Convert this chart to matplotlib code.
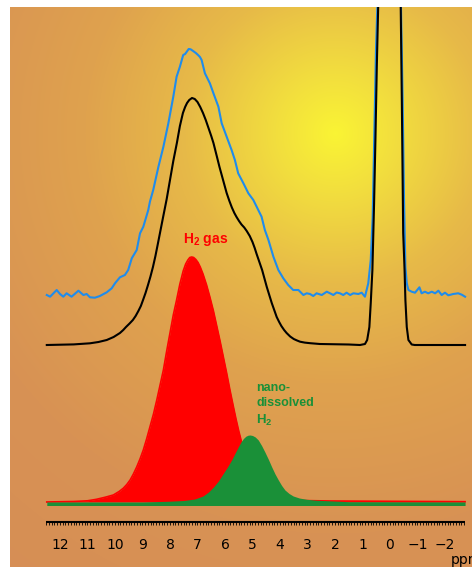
import numpy as np
import matplotlib
matplotlib.use("Agg")
import matplotlib.pyplot as plt

plt.rcParams["mathtext.fontset"] = "custom"
plt.rcParams["mathtext.bf"] = "Liberation Sans:bold"
plt.rcParams["mathtext.rm"] = "Liberation Sans:bold"

# ---- data (ppm, intensity in arbitrary units) ----
RED_PPM = [12.48, 11.5, 11.0, 10.67, 10.35, 10.06, 9.85, 9.70, 9.57, 9.45, 9.33,
           9.21, 9.09, 8.97, 8.85, 8.73, 8.6, 8.48, 8.36, 8.24, 8.12, 8.0, 7.88,
           7.76, 7.64, 7.52, 7.43, 7.35, 7.28, 7.21, 7.14, 7.06, 6.98, 6.9, 6.8,
           6.67, 6.55, 6.42, 6.3, 6.18, 6.06, 5.94, 5.82, 5.7, 5.6, 5.5, 5.38,
           5.27, 5.15, 5.03, 4.91, 4.75, 4.55, 4.3, 4.0, 3.6, 3.27, 2.18, -2.73]
RED_INT = [0, 0.5, 1.2, 2.7, 4.8, 7, 10.5, 13.7, 17.5, 22, 28,
           35, 43, 52, 63, 75, 88, 102, 117, 132, 151, 169, 187,
           202, 218, 231, 238, 242, 244.5, 245, 244.5, 242.5, 239.5, 235, 228,
           217, 205, 191, 176, 161, 145, 129, 112, 96, 83, 71, 58,
           47, 37, 29, 23, 16, 10, 6, 3.5, 2, 1.5, 1, 0.3]

GREEN_PPM = [12.48, 9.0, 8.0, 7.5, 7.1, 6.8, 6.6, 6.42, 6.24, 6.06, 5.91, 5.76,
             5.64, 5.52, 5.42, 5.33, 5.24, 5.16, 5.09, 5.0, 4.9, 4.79, 4.67,
             4.55, 4.42, 4.30, 4.18, 4.06, 3.94, 3.82, 3.67, 3.52, 3.3, 3.03,
             2.7, 2.30, 1.5, -2.73]
GREEN_INT = [0, 0, 0.8, 1.5, 3, 6, 10, 15, 21, 28.7, 35, 42,
             48.5, 55, 60, 63.5, 65.8, 66.8, 67, 66.5, 65, 62, 56.5,
             50, 42.5, 35, 28, 22, 16.5, 12, 8.5, 6, 4, 2.7,
             1.8, 1.3, 0.3, 0]

BLACK_PPM = [12.48, 11.5, 10.91, 10.6, 10.30, 10.05, 9.82, 9.7, 9.6, 9.47, 9.35,
             9.25, 9.15, 9.06, 8.98, 8.89, 8.8, 8.71, 8.62, 8.53, 8.45, 8.35,
             8.25, 8.12, 8.0, 7.88, 7.75, 7.64, 7.53, 7.45, 7.38, 7.3, 7.2, 7.1,
             7.0, 6.9, 6.8, 6.7, 6.6, 6.5, 6.42, 6.3, 6.2, 6.07, 5.94, 5.84,
             5.75, 5.66, 5.58, 5.49, 5.4, 5.3, 5.21, 5.1, 5.0, 4.92, 4.85, 4.75,
             4.65, 4.56, 4.48, 4.39, 4.3, 4.21, 4.12, 4.03, 3.95, 3.85, 3.76,
             3.63, 3.5, 3.38, 3.27, 3.1, 2.9, 2.55, 1.5, 1.09, 0.91, 0.83, 0.75,
             0.70, 0.64, 0.58, 0.53, 0.48, 0.43, 0.3, 0.0, -0.3, -0.39, -0.43,
             -0.48, -0.53, -0.56, -0.61, -0.67, -0.79, -0.9, -2.73]
BLACK_INT = [0, 0.6, 1.7, 3, 5, 8, 12, 15, 18, 21.5, 25,
             29, 34, 39, 45, 52, 60, 68.5, 78, 89, 100, 114,
             128, 146, 165, 184, 202, 219, 232, 238, 242, 245, 247, 246,
             243, 238, 232, 225, 217, 209, 202, 189, 178, 165, 152, 144,
             137.5, 132, 128, 124, 120.5, 117.5, 114, 109, 103, 97, 91, 83,
             75, 66, 58, 50, 42, 35, 28, 23, 19, 15, 12,
             8.5, 6, 4.5, 3.3, 2.4, 1.8, 1, 0.5, 0, 1, 5, 18,
             42, 75, 140, 205, 278, 338, 520, 600, 520, 338, 245,
             112, 75, 45, 18, 5, 0.5, 0, 0]

BLUE_PPM = [12.48, 12.36, 12.12, 12.0, 11.88, 11.76, 11.58, 11.33, 11.15, 11.03,
            10.91, 10.73, 10.55, 10.30, 10.12, 10.0, 9.82, 9.64, 9.52, 9.39, 9.21,
            9.09, 8.97, 8.79, 8.73, 8.61, 8.42, 8.24, 8.06, 7.88, 7.76, 7.64, 7.52,
            7.45, 7.39, 7.32, 7.25, 7.16, 7.06, 6.98, 6.91, 6.85, 6.73, 6.55, 6.42,
            6.24, 6.12, 5.94, 5.76, 5.64, 5.52, 5.33, 5.15, 4.97, 4.79, 4.67, 4.55,
            4.42, 4.24, 4.06, 3.88, 3.70, 3.52, 3.33, 3.15, 3.03, 2.91, 2.79, 2.67,
            2.48, 2.30, 2.18, 2.06, 1.94, 1.82, 1.70, 1.58, 1.45, 1.33, 1.15, 1.03,
            0.91, 0.79, 0.70, 0.63, 0.57, 0.51, 0.46, 0.3, 0.0, -0.3, -0.40, -0.46,
            -0.51, -0.56, -0.61, -0.67, -0.79, -0.91, -1.07, -1.15, -1.27, -1.39,
            -1.52, -1.64, -1.76, -1.88, -2.0, -2.12, -2.30, -2.48, -2.61, -2.73]
BLUE_INT = [0, -1.7, 5, 1, -1.7, 1.7, -1.7, 4.3, 0, 1,
            -2.3, -2.7, -1, 2.7, 6.7, 11.7, 17.7, 20, 25, 36.7, 45,
            61.7, 68.3, 85, 93.3, 105, 128.3, 148.3, 171.7, 198.3, 218.3, 228.3, 240,
            241, 243.3, 246, 245.7, 244, 242, 240, 238, 235, 221.7, 211.7, 201.7,
            188.3, 171.7, 158.3, 145, 135, 121.7, 111.7, 101.7, 95, 85, 78.3, 65,
            55, 38.3, 25, 16.7, 10, 5, 5, 0, 1.7, 1, -1, 1.7,
            0, 3.3, 1.7, 0, 2.5, 1.7, 0, 2.3, 0, 1.7, 1, 2.3,
            -1.7, 11.7, 35, 78, 161.7, 245, 288, 420, 480, 420, 288, 195,
            95, 28, 11.7, 5, 3.3, 2.3, 7.7, 1.7, 3.3, 1.7,
            3.3, 1.7, 4.3, 0, 2.3, -0.3, 1, 1.7, 0.3, -1.7]

TICK_PPM = [12, 11, 10, 9, 8, 7, 6, 5, 4, 3, 2, 1, 0, -1, -2]
TICK_LABELS = ["12", "11", "10", "9", "8", "7", "6", "5", "4", "3", "2", "1",
               "0", "\u22121", "\u22122"]

# layout
BLACK_OFFSET = 157
BLUE_OFFSET = 207
RULER_Y = -20
RULER_SPAN = (12.5, -2.73)

RED = "#ff0000"
GREEN = "#1a9038"
BLUE = "#1f8cec"

W, H = 472, 567
fig = plt.figure(figsize=(W / 100, H / 100), dpi=100)
fig.patch.set_facecolor("white")
rect = [10 / W, 0, 462 / W, 560 / H]

# radial background gradient
bg = fig.add_axes(rect)
gy, gx = np.mgrid[0:560, 0:462]
d = np.hypot(gx + 10 - 335, gy + 7 - 133)
stops = [0, 60, 150, 250, 400, 650]
cols = np.array([(250, 244, 52), (242, 222, 62), (231, 186, 72),
                 (223, 162, 78), (216, 146, 84), (213, 140, 86)]) / 255
img = np.dstack([np.interp(d, stops, cols[:, k]) for k in range(3)])
bg.imshow(img, extent=[0, 1, 0, 1], aspect="auto", origin="upper")
bg.axis("off")

ax = fig.add_axes(rect)
ax.set_facecolor("none")
ax.set_xlim(13.818, -2.982)
ax.set_ylim(-65, 495)
ax.axis("off")

# component fits
ax.fill_between(RED_PPM, 0, RED_INT, color=RED, lw=0, zorder=2)
ax.plot(RED_PPM, RED_INT, color=RED, lw=1.2, zorder=2)
ax.fill_between(GREEN_PPM, -3.5, GREEN_INT, color=GREEN, lw=0, zorder=3)

# measured and fitted spectra
ax.plot(BLUE_PPM, np.array(BLUE_INT) + BLUE_OFFSET, color=BLUE, lw=1.5, zorder=4,
        solid_joinstyle="round")
ax.plot(BLACK_PPM, np.array(BLACK_INT) + BLACK_OFFSET, color="black", lw=1.5,
        zorder=5, solid_joinstyle="round")

# ppm ruler
ax.plot(RULER_SPAN, [RULER_Y, RULER_Y], color="black", lw=1.5, solid_capstyle="butt")
minor = np.arange(-27, 126) / 10
ax.vlines(minor, RULER_Y - 3, RULER_Y, color="black", lw=0.6)
for p, lab in zip(TICK_PPM, TICK_LABELS):
    ax.text(p, RULER_Y - 23, lab, ha="center", va="center", fontsize=10,
            family="DejaVu Sans")
ax.text(-2.22, -58, "ppm", ha="left", va="center", fontsize=10,
        family="DejaVu Sans", clip_on=False)

# annotations
ax.text(7.53, 262, r"$\mathbf{H_2}$ gas", color=RED, fontsize=10, fontweight="bold",
        family="Liberation Sans", ha="left", va="center")
ax.text(4.87, 114, "nano-", color=GREEN, fontsize=9, fontweight="bold",
        family="Liberation Sans", ha="left", va="center")
ax.text(4.87, 99, "dissolved", color=GREEN, fontsize=9, fontweight="bold",
        family="Liberation Sans", ha="left", va="center")
ax.text(4.87, 82, r"$\mathbf{H_2}$", color=GREEN, fontsize=9.5, fontweight="bold",
        family="Liberation Sans", ha="left", va="center")

fig.savefig("out.png", dpi=100)
